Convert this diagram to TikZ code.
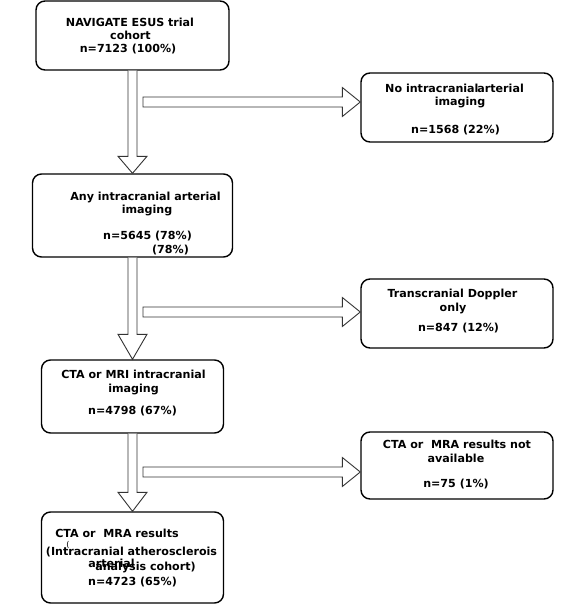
\documentclass[tikz,border=0pt]{standalone}
\usepackage{fontspec}
\setmainfont{DejaVu Sans}
\usetikzlibrary{calc}
\tikzset{
  box/.style={draw=black, line width=1.4pt, rounded corners=9pt, minimum width=#1, inner sep=0pt},
  txt/.style={anchor=base, inner sep=0pt, font=\fontsize{11.1}{13}\selectfont\bfseries},
  barrow/.style={draw=black!80, line width=0.9pt, fill=white, line join=miter},
}
\newcommand\vblock[3]{%
  \draw[barrow] ($(#1.south)+(-4.5,0)$) -- ($(#2.north)+(-4.5,-#3)$) -- ($(#2.north)+(-14.5,-#3)$) -- (#2.north)
   -- ($(#2.north)+(14.5,-#3)$) -- ($(#2.north)+(4.5,-#3)$) -- ($(#1.south)+(4.5,0)$);}
\newcommand\hblock[2]{%
  \draw[barrow] ($(#1)+(0,-5)$) -- ($(#2)+(-18,-5)$) -- ($(#2)+(-18,-14.5)$) -- (#2)
   -- ($(#2)+(-18,14.5)$) -- ($(#2)+(-18,5)$) -- ($(#1)+(0,5)$) -- cycle;}
\begin{document}
\begin{tikzpicture}[x=1pt,y=-1pt]
\useasboundingbox[fill=white] (0,0) rectangle (575,605);
% boxes
\node[box=193pt, minimum height=69pt] (b1) at (132.5,35.5) {};
\node[box=192pt, minimum height=69pt] (b2) at (457,107.5) {};
\node[box=200pt, minimum height=83pt] (b3) at (132.5,215.5) {};
\node[box=192pt, minimum height=69pt] (b4) at (457,313.5) {};
\node[box=182pt, minimum height=73pt] (b5) at (132.5,396.5) {};
\node[box=192pt, minimum height=67pt] (b6) at (457,465.5) {};
\node[box=182pt, minimum height=91pt] (b7) at (132.5,557.5) {};
% texts
\node[txt] (t1a) at (130,26) {NAVIGATE ESUS trial};
\node[txt] (t1b) at (130.5,39) {cohort};
\node[txt] (t1c) at (128,52) {n=7123 (100\%)};
\node[txt] (t2a) at (454.5,92) {No intracranial\hspace{-0.1em}arterial};
\node[txt] (t2b) at (460,105) {imaging};
\node[txt] (t2c) at (455.5,133) {n=1568 (22\%)};
\node[txt] (t3a) at (145.5,200) {Any intracranial arterial};
\node[txt] (t3b) at (147,213) {imaging};
\node[txt] (t3c) at (147.5,239) {n=5645 (78\%)};
\node[txt] (t3d) at (170.5,253) {(78\%)};
\node[txt] (t4a) at (452.5,297) {Transcranial Doppler};
\node[txt] (t4b) at (453,311) {only};
\node[txt] (t4c) at (458.5,331) {n=847 (12\%)};
\node[txt] (t5a) at (133.5,378) {CTA or MRI intracranial};
\node[txt] (t5b) at (133.5,392) {imaging};
\node[txt] (t5c) at (132.5,414) {n=4798 (67\%)};
\node[txt] (t6a) at (457,448) {CTA or\ \ MRA results not};
\node[txt] (t6b) at (456,462) {available};
\node[txt] (t6c) at (456,487) {n=75 (1\%)};
\node[txt] (t7a) at (117,537) {CTA or\ \ MRA results};
\node[txt, font=\fontsize{8}{9}\selectfont] (t7p) at (68,547) {(};
\node[txt] (t7b) at (131.5,555) {(Intracranial atherosclerois};
\node[txt] (t7c) at (111.5,567) {arterial};
\node[txt] (t7d) at (145.5,570) {analysis cohort)};
\node[txt] (t7e) at (132.5,585) {n=4723 (65\%)};
% vertical block arrows
\vblock{b1}{b3}{17}
\vblock{b3}{b5}{25}
\vblock{b5}{b7}{19}
% horizontal block arrows
\coordinate (s1) at (143,102);
\coordinate (s2) at (143,312);
\coordinate (s3) at (143,472);
\coordinate (e1) at (b2.west |- s1);
\coordinate (e2) at (b4.west |- s2);
\coordinate (e3) at (b6.west |- s3);
\hblock{s1}{e1}
\hblock{s2}{e2}
\hblock{s3}{e3}
\end{tikzpicture}
\end{document}
